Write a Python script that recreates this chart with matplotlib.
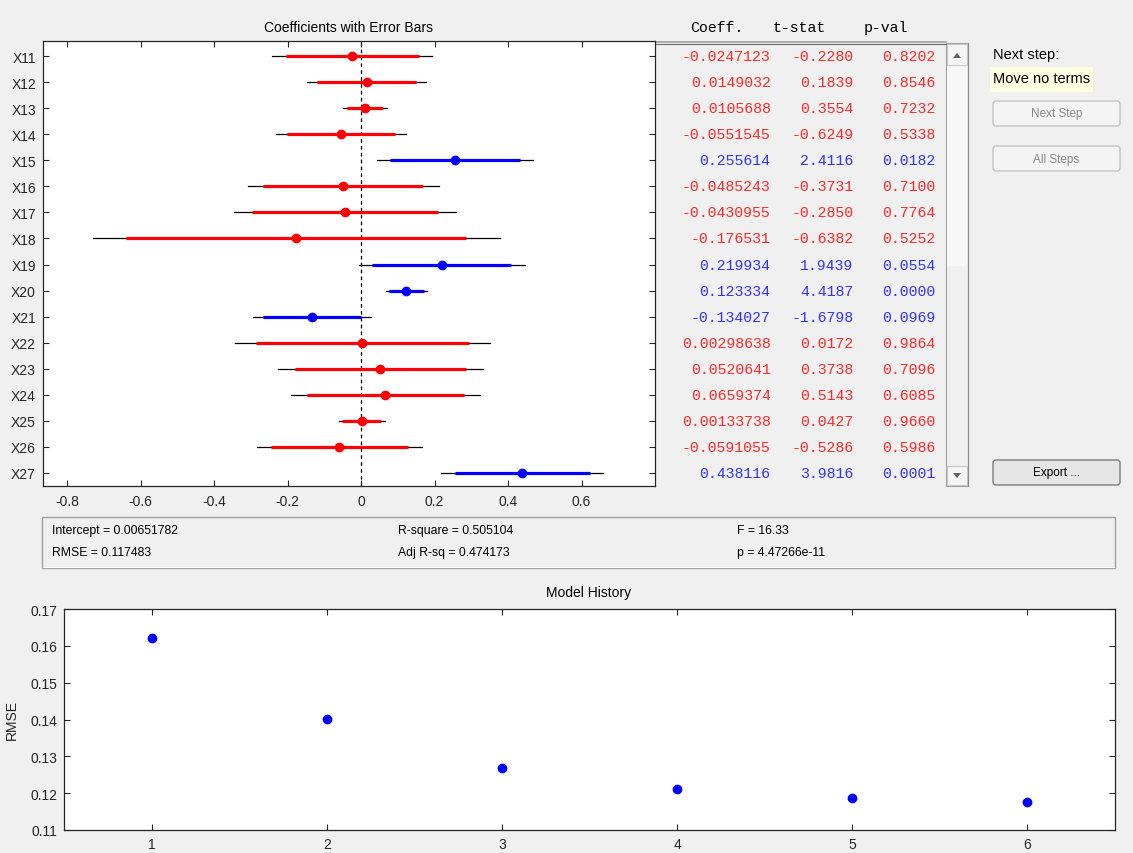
import matplotlib
matplotlib.use('Agg')
import matplotlib.pyplot as plt
from matplotlib.patches import Rectangle, FancyBboxPatch, Polygon

# ---------------- data ----------------
terms = ['X11', 'X12', 'X13', 'X14', 'X15', 'X16', 'X17', 'X18', 'X19',
         'X20', 'X21', 'X22', 'X23', 'X24', 'X25', 'X26', 'X27']
coef = [-0.0247123, 0.0149032, 0.0105688, -0.0551545, 0.255614, -0.0485243,
        -0.0430955, -0.176531, 0.219934, 0.123334, -0.134027, 0.00298638,
        0.0520641, 0.0659374, 0.00133738, -0.0591055, 0.438116]
tstat = [-0.2280, 0.1839, 0.3554, -0.6249, 2.4116, -0.3731, -0.2850, -0.6382,
         1.9439, 4.4187, -1.6798, 0.0172, 0.3738, 0.5143, 0.0427, -0.5286, 3.9816]
pval = [0.8202, 0.8546, 0.7232, 0.5338, 0.0182, 0.7100, 0.7764, 0.5252,
        0.0554, 0.0000, 0.0969, 0.9864, 0.7096, 0.6085, 0.9660, 0.5986, 0.0001]
# 95% interval (thin black) and 90% interval (thick coloured)
ci95_lo = [-0.2415, -0.1472, -0.0489, -0.2317, 0.0436, -0.3086, -0.3455, -0.7297,
           -0.0064, 0.0675, -0.2936, -0.3443, -0.2265, -0.1905, -0.0613, -0.2827, 0.2180]
ci95_hi = [0.1921, 0.1770, 0.0700, 0.1214, 0.4676, 0.2116, 0.2593, 0.3767,
           0.4462, 0.1792, 0.0256, 0.3503, 0.3306, 0.3223, 0.0640, 0.1645, 0.6582]
ci90_lo = [-0.2058, -0.1205, -0.0391, -0.2026, 0.0785, -0.2658, -0.2958, -0.6388,
           0.0309, 0.0767, -0.2674, -0.2871, -0.1807, -0.1483, -0.0510, -0.2459, 0.2542]
ci90_hi = [0.1564, 0.1503, 0.0603, 0.0923, 0.4327, 0.1688, 0.2096, 0.2857,
           0.4090, 0.1700, -0.0007, 0.2931, 0.2848, 0.2802, 0.0537, 0.1277, 0.6220]
in_model = [False, False, False, False, True, False, False, False, True,
            True, True, False, False, False, False, False, True]

steps = [1, 2, 3, 4, 5, 6]
rmse_hist = [0.1622, 0.1402, 0.1268, 0.1210, 0.1188, 0.1175]

stats_text = [["Intercept = 0.00651782", "RMSE = 0.117483"],
              ["R-square = 0.505104", "Adj R-sq = 0.474173"],
              ["F = 16.33", "p = 4.47266e-11"]]

# ---------------- figure ----------------
W, H = 1133, 854
BG = '#F0F0F0'
TXT = '#262626'
plt.rcParams['font.family'] = ['Liberation Sans', 'DejaVu Sans']
fig = plt.figure(figsize=(W / 100, H / 100), dpi=100, facecolor=BG)


def ax_px(x0, y0, x1, y1, **kw):
    return fig.add_axes([x0 / W, 1 - y1 / H, (x1 - x0) / W, (y1 - y0) / H], **kw)


def fx(x):
    return x / W


def fy(y):
    return 1 - y / H


# overlay axes in pixel coords for GUI decorations
ov = fig.add_axes([0, 0, 1, 1], zorder=-1)
ov.set_xlim(0, W)
ov.set_ylim(H, 0)
ov.axis('off')
ov.patch.set_alpha(0)

# ---------------- coefficient plot ----------------
ax = ax_px(43, 42, 655, 487)
ax.set_facecolor('white')
n = len(terms)
rows = list(range(11, 11 + n))
for i in range(n):
    col = 'blue' if in_model[i] else 'red'
    y = rows[i]
    ax.plot([ci95_lo[i], ci95_hi[i]], [y, y], color='black', lw=0.9, zorder=2)
    ax.plot([ci90_lo[i], ci90_hi[i]], [y, y], color=col, lw=2.3,
            solid_capstyle='butt', zorder=3)
    ax.plot([coef[i]], [y], 'o', color=col, ms=6, mec=col, zorder=4)
ax.axvline(0, color='black', lw=0.9, ls=(0, (3, 2.5)), zorder=1)
ax.set_xlim(-0.866, 0.80)
ax.set_ylim(27.5, 10.42)
ax.set_xticks([-0.8, -0.6, -0.4, -0.2, 0, 0.2, 0.4, 0.6])
ax.set_xticklabels(['-0.8', '-0.6', '-0.4', '-0.2', '0', '0.2', '0.4', '0.6'])
ax.set_yticks(rows)
ax.set_yticklabels(terms)
ax.tick_params(direction='in', top=True, right=True, length=4.5, width=0.8,
               labelsize=10, colors=TXT, pad=5)
ax.tick_params(axis='x', pad=6)
for s in ax.spines.values():
    s.set_color('#262626')
    s.set_linewidth(0.9)
fig.text(fx(348), fy(28), 'Coefficients with Error Bars', ha='center', va='center',
         fontsize=10, color='black')

# ---------------- table ----------------
tab = ax_px(655, 42, 946, 487)
tab.set_xlim(655, 946)
tab.set_ylim(27.5, 10.42)
tab.axis('off')
mono = ['Liberation Mono', 'DejaVu Sans Mono']
TFS = 10.7
for i in range(n):
    col = '#3333FF' if in_model[i] else '#FF2A2A'
    y = rows[i]
    tab.text(770.5, y, f'{coef[i]:.6g}', ha='right', va='center', family=mono,
             fontsize=TFS, color=col)
    tab.text(853.5, y, f'{tstat[i]:.4f}', ha='right', va='center', family=mono,
             fontsize=TFS, color=col)
    tab.text(935.5, y, f'{pval[i]:.4f}', ha='right', va='center', family=mono,
             fontsize=TFS, color=col)
fig.text(fx(690), fy(28), 'Coeff.', ha='left', va='center', family=mono, fontsize=TFS, color='black')
fig.text(fx(773), fy(28), 't-stat', ha='left', va='center', family=mono, fontsize=TFS, color='black')
fig.text(fx(864), fy(28), 'p-val', ha='left', va='center', family=mono, fontsize=TFS, color='black')
# table border top
ov.plot([655, 946], [43, 43], color='#A0A0A0', lw=1.2)
ov.plot([655, 946], [44.5, 44.5], color='#696969', lw=0.8)

# scrollbar
ov.add_patch(Rectangle((946, 44), 22, 443, facecolor='#F0F0F0', edgecolor='#A0A0A0', lw=0.8))
ov.add_patch(Rectangle((947, 67), 20, 200, facecolor='#F7F7F7', edgecolor='none'))
ov.add_patch(Rectangle((947, 45), 20, 21, facecolor='#F5F5F5', edgecolor='#C8C8C8', lw=0.8))
ov.add_patch(Rectangle((947, 467), 20, 19, facecolor='#F5F5F5', edgecolor='#C8C8C8', lw=0.8))
ov.add_patch(Polygon([[953, 59], [961, 59], [957, 54]], closed=True, facecolor='#606060', edgecolor='none'))
ov.add_patch(Polygon([[953, 474], [961, 474], [957, 479]], closed=True, facecolor='#606060', edgecolor='none'))
ov.plot([968, 968], [44, 487], color='#8A8A8A', lw=0.8)

# right panel
fig.text(fx(993), fy(55), 'Next step:', ha='left', va='center', fontsize=10.5, color='black')
ov.add_patch(Rectangle((990, 68), 103, 25, facecolor='#FFFFE1', edgecolor='none'))
fig.text(fx(993), fy(79), 'Move no terms', ha='left', va='center', fontsize=10.5, color='black')


def button(x0, y0, x1, y1, label, enabled):
    face = '#E6E6E6' if enabled else '#F4F4F4'
    edge = '#707070' if enabled else '#BFBFBF'
    ov.add_patch(FancyBboxPatch((x0, y0), x1 - x0, y1 - y0,
                                boxstyle='round,pad=0,rounding_size=3',
                                facecolor=face, edgecolor=edge, lw=0.9))
    fig.text(fx((x0 + x1) / 2), fy((y0 + y1) / 2), label, ha='center', va='center',
             fontsize=8.5, color='black' if enabled else '#8A8A8A')


button(993, 102, 1120, 127, 'Next Step', False)
button(993, 147, 1120, 172, 'All Steps', False)
button(993, 461, 1120, 486, 'Export ...', True)

# ---------------- stats panel ----------------
ov.add_patch(Rectangle((42, 518), 1073, 51, facecolor='none', edgecolor='#A0A0A0', lw=1.0))
ov.plot([43, 1114], [568, 568], color='white', lw=0.8)
xs = [52, 398, 737]
for j, col in enumerate(stats_text):
    fig.text(fx(xs[j]), fy(531), col[0], ha='left', va='center', fontsize=8.8,
             color='black')
    fig.text(fx(xs[j]), fy(553), col[1], ha='left', va='center', fontsize=8.8,
             color='black')

# ---------------- model history ----------------
ax2 = ax_px(64, 610, 1115, 831)
ax2.set_facecolor('white')
ax2.plot(steps, rmse_hist, 'o', color='blue', ms=6, mec='blue')
ax2.set_xlim(0.5, 6.5)
ax2.set_ylim(0.11, 0.17)
ax2.set_xticks(steps)
ax2.set_yticks([0.11, 0.12, 0.13, 0.14, 0.15, 0.16, 0.17])
ax2.set_yticklabels(['0.11', '0.12', '0.13', '0.14', '0.15', '0.16', '0.17'])
ax2.tick_params(direction='in', top=True, right=True, length=4.5, width=0.8,
                labelsize=10, colors=TXT, pad=5)
for s in ax2.spines.values():
    s.set_color('#262626')
    s.set_linewidth(0.9)
ax2.set_ylabel('RMSE', fontsize=10, color=TXT, labelpad=8)
fig.text(fx(589), fy(593), 'Model History', ha='center', va='center', fontsize=10, color='black')

fig.savefig('out.png', dpi=100, facecolor=BG)
